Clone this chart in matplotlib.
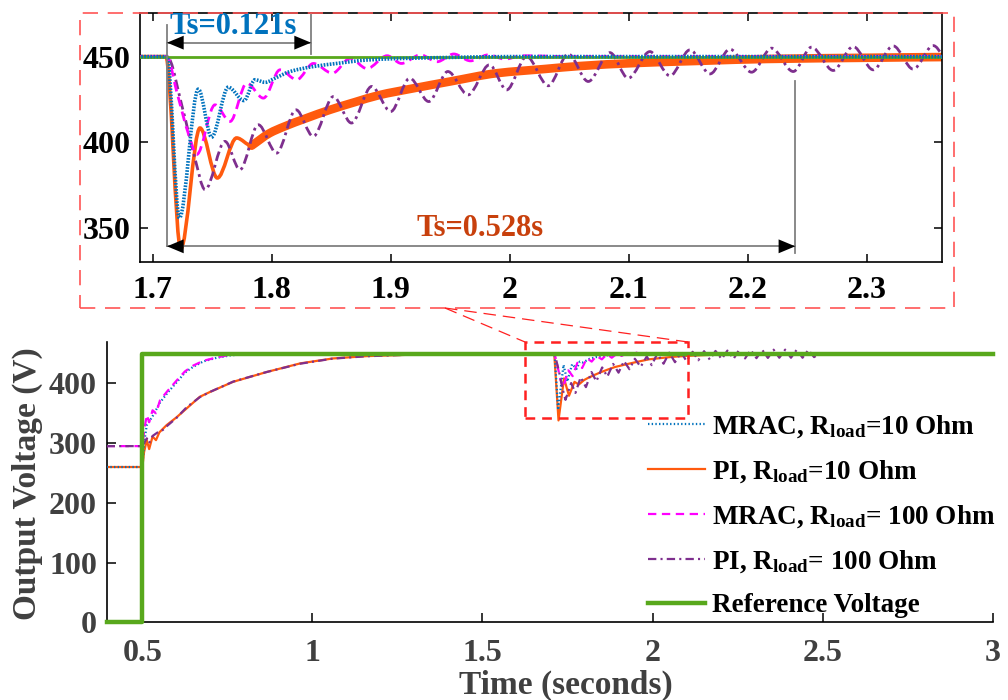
import numpy as np
import matplotlib
matplotlib.use("Agg")
import matplotlib.pyplot as plt
from matplotlib.lines import Line2D
from matplotlib.patches import Rectangle, PathPatch
from matplotlib.path import Path

plt.rcParams['font.family'] = ['Liberation Serif', 'DejaVu Serif']
plt.rcParams['font.weight'] = 'bold'
plt.rcParams['axes.labelweight'] = 'bold'
plt.rcParams['mathtext.fontset'] = 'custom'
plt.rcParams['mathtext.rm'] = 'Liberation Serif:bold'
plt.rcParams['mathtext.bf'] = 'Liberation Serif:bold'
plt.rcParams['mathtext.it'] = 'Liberation Serif:bold:italic'
plt.rcParams['lines.scale_dashes'] = False

# ---- data (time in s, voltage in V) ----
t_ref = [0.395, 0.5, 0.5, 3.0]
v_ref = [0, 0, 450, 450]

t_mrac10 = [0.395, 0.5, 0.505, 0.513, 0.53, 0.552, 0.575, 0.601, 0.625, 0.65, 0.68, 0.719,
            0.76, 0.807, 0.9, 1.712, 1.7224, 1.7383, 1.7495, 1.7635, 1.7767, 1.786, 1.7945,
            1.8027, 1.8154, 1.835, 1.8546, 1.88, 1.905, 1.95, 2.0, 3.0]
v_mrac10 = [260, 260, 300, 330, 345, 368, 385, 402, 418, 428, 437, 443,
            447, 449, 450, 450, 356, 431, 403.1, 432.2, 424.4, 436.5, 435,
            437.4, 441.3, 444.2, 446, 448, 448.8, 449.5, 450, 450]

t_pi10 = [0.395, 0.5, 0.505, 0.513, 0.52, 0.53, 0.54, 0.55, 0.571, 0.6, 0.63, 0.669, 0.7,
          0.767, 0.865, 0.964, 1.06, 1.16, 1.257, 1.35, 1.5, 1.711, 1.7235, 1.7397, 1.7543,
          1.7705, 1.7831, 1.7985, 1.8097, 1.8294, 1.849, 1.87, 1.89, 1.919, 1.95, 1.989,
          2.03, 2.059, 2.104, 2.16, 2.216, 2.3, 2.362, 2.45, 3.0]
v_pi10 = [260, 260, 285, 305, 290, 311, 305, 318, 330, 343, 358, 377.6, 386,
          402.7, 419, 433.5, 441.8, 445.7, 447.4, 449.5, 450, 450, 338, 408.4, 379.3,
          402.6, 398.1, 405.5, 409, 414.2, 419, 423.5, 427.5, 431.5, 435.5, 440.3,
          442.8, 444.5, 446.2, 447.5, 448.6, 449.3, 449.7, 450, 450]

t_mrac100 = [0.395, 0.5, 0.505, 0.513, 0.52, 0.53, 0.54, 0.552, 0.575, 0.601, 0.625, 0.65,
             0.68, 0.719, 0.76, 0.807, 1.712, 1.72, 1.73, 1.737, 1.7523, 1.765, 1.779, 1.793,
             1.807, 1.821, 1.835, 1.851, 1.866, 1.88, 1.897, 1.909, 1.925, 1.939, 1.953,
             1.967, 1.982, 1.996, 2.01, 2.05, 3.0]
v_mrac100 = [295, 295, 320, 347, 335, 355, 350, 372, 388, 405, 420, 430,
             438, 443.5, 448, 450, 450, 430, 405, 393, 421.9, 412.2, 434.5, 425.8,
             442.3, 436.5, 446, 440.3, 449, 443, 450.5, 446, 451, 447, 451.5,
             447.5, 451, 448.5, 450.5, 450, 450]

t_pi100 = [0.395, 0.5, 0.505, 0.513, 0.52, 0.53, 0.545, 0.56, 0.571, 0.6, 0.63, 0.669, 0.7,
           0.767, 0.865, 0.964, 1.06, 1.16, 1.257, 1.35, 1.5, 1.712, 1.725, 1.735, 1.744,
           1.7607, 1.7733, 1.7887, 1.8041, 1.8204, 1.8349, 1.8518, 1.867, 1.884, 1.9, 1.916,
           1.932, 1.948, 1.965, 1.983, 1.9974, 2.0142, 2.0324, 2.0492, 2.066, 2.0842, 2.0996,
           2.1178, 2.1347, 2.1515, 2.1683, 2.1851, 2.2033, 2.2201, 2.2383, 2.2537, 2.2719,
           2.2887, 2.3055, 2.3223, 2.3391, 2.3559, 2.3727, 2.39, 2.407, 2.424, 2.441, 2.458,
           2.475, 2.49, 3.0]
v_pi100 = [295, 295, 300, 308, 300, 312, 318, 322, 328, 342, 360, 377, 386,
           403, 419, 433, 441.5, 445.5, 447.5, 449.5, 450, 450, 420, 392, 372.5,
           400.6, 384.1, 410.3, 393.8, 419, 403.5, 426.7, 411.3, 432.6, 418, 437.4,
           423.8, 441.3, 427.7, 445.2, 430.6, 450, 433, 451.5, 435.5, 452.3, 437.4,
           452.9, 438.8, 453.9, 439.9, 454.3, 440.9, 454.9, 441.3, 455.5, 441.9,
           455.8, 442.3, 456.2, 442.7, 456.4, 443, 456.5, 443, 456.5, 443, 456,
           444, 450, 450]

labels = [r'MRAC, R$_{\mathbf{load}}$=10 Ohm', r'PI, R$_{\mathbf{load}}$=10 Ohm',
          r'MRAC, R$_{\mathbf{load}}$= 100 Ohm', r'PI, R$_{\mathbf{load}}$= 100 Ohm',
          'Reference Voltage']

t_disturb = 1.712
ts_mrac = 0.121
ts_pi = 0.528

c_blue = '#0072BD'
c_orange = '#FF5A0E'
c_magenta = '#FF00FF'
c_purple = '#7E2F8E'
c_green = '#58A81C'
c_box = '#FF2020'


def smooth_path(t, v):
    """Monotone cubic (Bezier) path through the read points, flat at the extrema."""
    x = np.asarray(t, float)
    y = np.asarray(v, float)
    h = np.diff(x)
    d = np.diff(y) / h
    m = np.zeros_like(x)
    m[0], m[-1] = d[0], d[-1]
    for i in range(1, len(x) - 1):
        if d[i - 1] * d[i] > 0:
            w1 = 2 * h[i] + h[i - 1]
            w2 = h[i] + 2 * h[i - 1]
            m[i] = (w1 + w2) / (w1 / d[i - 1] + w2 / d[i])
    verts = [(x[0], y[0])]
    codes = [Path.MOVETO]
    for i in range(len(h)):
        verts += [(x[i] + h[i] / 3, y[i] + m[i] * h[i] / 3),
                  (x[i + 1] - h[i] / 3, y[i + 1] - m[i + 1] * h[i] / 3),
                  (x[i + 1], y[i + 1])]
        codes += [Path.CURVE4] * 3
    return Path(verts, codes)


fig = plt.figure(figsize=(10.08, 7.0), dpi=100)

# ---- main axes ----
ax = fig.add_axes([0.1058, 0.111, 0.879, 0.401])
ax.plot(t_mrac10, v_mrac10, ls=':', color=c_blue, lw=1.6, label=labels[0], zorder=3)
ax.plot(t_pi10, v_pi10, ls='-', color=c_orange, lw=1.6, label=labels[1], zorder=2)
ax.plot(t_mrac100, v_mrac100, color=c_magenta, lw=1.6, dashes=(6, 4), label=labels[2], zorder=3)
ax.plot(t_pi100, v_pi100, color=c_purple, lw=1.6, dashes=(6, 3, 1.5, 3), label=labels[3], zorder=3)
ax.plot(t_ref, v_ref, color=c_green, lw=3.2, label=labels[4], zorder=5, clip_on=False)

ax.set_xlim(0.395, 3.0)
ax.set_ylim(0, 470)
ax.set_xticks([0.5, 1, 1.5, 2, 2.5, 3])
ax.set_xticklabels(['0.5', '1', '1.5', '2', '2.5', '3'])
ax.set_yticks([0, 100, 200, 300, 400])
for s in ['top', 'right']:
    ax.spines[s].set_visible(False)
for s in ['left', 'bottom']:
    ax.spines[s].set_linewidth(1.2)
ax.tick_params(direction='in', length=6.5, width=1.1, labelsize=23, labelcolor='#404040')
ax.tick_params(axis='x', pad=12)
ax.tick_params(axis='y', pad=7)
ax.set_xlabel('Time (seconds)', fontsize=24, color='#404040')
ax.set_ylabel('Output Voltage (V)', fontsize=24, color='#404040')
ax.xaxis.set_label_coords(0.518, -0.17)
ax.yaxis.set_label_coords(-0.072, 0.493)

ax.add_patch(Rectangle((1.625, 342), 2.104 - 1.625, 469 - 342, fill=False, ec=c_box,
                       lw=1.8, ls=(0, (7, 5)), zorder=6, clip_on=False))

leg = ax.legend(loc='upper left', bbox_to_anchor=(648 / 1008, 1 - 413 / 700),
                bbox_transform=fig.transFigure, frameon=False, fontsize=19.5,
                handlelength=2.1, handletextpad=0.25, labelspacing=0.68,
                borderpad=0, borderaxespad=0)

# ---- zoomed inset ----
axi = fig.add_axes([0.1389, 0.6253, 0.7956, 0.3557])
t_pi10_a = np.array(t_pi10)
v_pi10_a = np.array(v_pi10)
thick = t_pi10_a >= 1.775
axi.add_patch(PathPatch(smooth_path(t_pi10[15:], v_pi10[15:]), fill=False, ec=c_orange,
                        lw=2.6, zorder=2))
axi.add_patch(PathPatch(smooth_path(t_pi10_a[thick], v_pi10_a[thick]), fill=False,
                        ec=c_orange, lw=6.2, zorder=2, capstyle='round'))
axi.add_patch(PathPatch(smooth_path(t_pi100[15:], v_pi100[15:]), fill=False, ec=c_purple,
                        lw=2, ls=(0, (7, 3, 2, 3)), zorder=3))
axi.add_patch(PathPatch(smooth_path(t_mrac100[10:], v_mrac100[10:]), fill=False,
                        ec=c_magenta, lw=2, ls=(0, (7, 4)), zorder=4))
axi.plot(t_ref, v_ref, color=c_green, lw=2, zorder=5)
axi.add_patch(PathPatch(smooth_path(t_mrac10[10:], v_mrac10[10:]), fill=False, ec=c_blue,
                        lw=2.6, ls=(0, (1.2, 1)), zorder=6))

axi.set_xlim(1.6893, 2.3633)
axi.set_ylim(330.2, 475.2)
axi.set_xticks([1.7, 1.8, 1.9, 2.0, 2.1, 2.2, 2.3])
axi.set_xticklabels(['1.7', '1.8', '1.9', '2', '2.1', '2.2', '2.3'])
axi.set_yticks([350, 400, 450])
for s in axi.spines.values():
    s.set_linewidth(1.2)
axi.tick_params(direction='in', length=6, width=1.1, labelsize=23, top=True, right=True)
axi.tick_params(axis='x', pad=10)
axi.tick_params(axis='y', pad=7)

# settling time markers
gray = '#808080'
axi.plot([t_disturb, t_disturb], [339.5, 468.4], color=gray, lw=1.3, zorder=7)
axi.plot([t_disturb + ts_mrac] * 2, [451.4, 475.2], color=gray, lw=1.3, zorder=7)
axi.plot([t_disturb + ts_pi] * 2, [335.7, 435.5], color=gray, lw=1.3, zorder=7)
axi.plot([t_disturb, t_disturb + ts_mrac], [458.1, 458.1], color=gray, lw=1.3, zorder=7)
axi.plot([t_disturb, t_disturb + ts_pi], [339.5, 339.5], color=gray, lw=1.3, zorder=7)
head = dict(arrowstyle='<|-|>,head_length=0.6,head_width=0.25', color='black', lw=0,
            shrinkA=0, shrinkB=0, mutation_scale=20)
axi.annotate('', xy=(t_disturb, 458.1), xytext=(t_disturb + ts_mrac, 458.1),
             arrowprops=head, zorder=8)
axi.annotate('', xy=(t_disturb, 339.5), xytext=(t_disturb + ts_pi, 339.5),
             arrowprops=head, zorder=8)
axi.text(t_disturb + 0.002, 467.4, 'Ts=0.121s', color=c_blue, fontsize=22,
         ha='left', va='center', zorder=9)
axi.text(1.975, 349.7, 'Ts=0.528s', color='#C8400C', fontsize=22,
         ha='center', va='center', zorder=9)

# dashed frame around the inset and zoom connectors
fig.add_artist(Rectangle((80 / 1008, 1 - 308 / 700), 874 / 1008, 295 / 700,
                         transform=fig.transFigure, fill=False, ec='#FF5555',
                         lw=1.2, ls=(0, (11, 7))))
for x_end in [525, 688]:
    fig.add_artist(Line2D([445 / 1008, x_end / 1008], [1 - 308 / 700, 1 - 342 / 700],
                          transform=fig.transFigure, color=c_box, lw=0.9,
                          ls=(0, (9, 5))))

fig.savefig('out.png', dpi=100)
